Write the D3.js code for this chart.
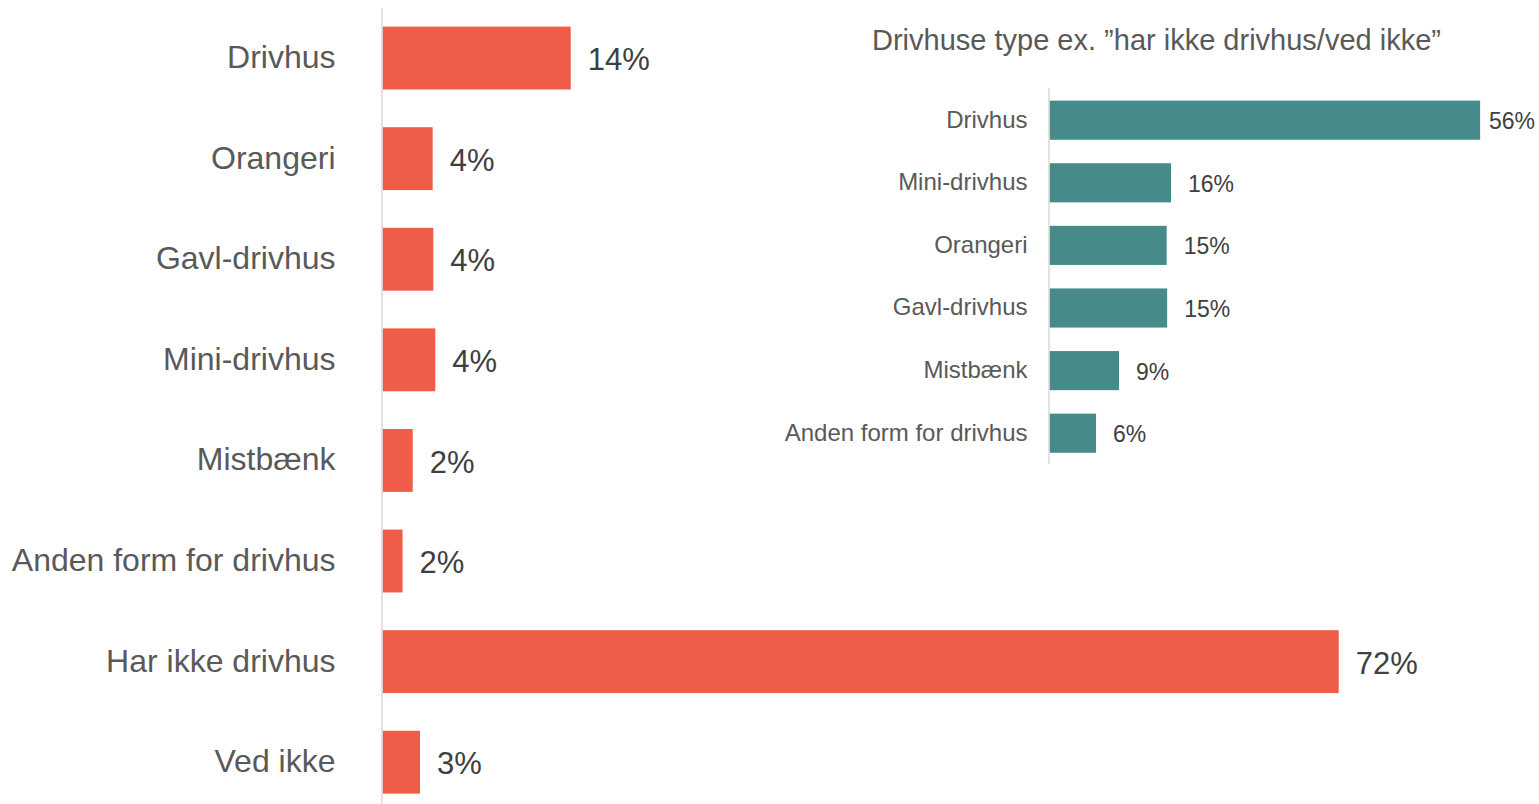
<!DOCTYPE html>
<html>
<head>
<meta charset="utf-8">
<script src="https://cdn.jsdelivr.net/npm/d3@7"></script>
<style>
html, body { margin: 0; padding: 0; background: #fff; }
svg { display: block; font-family: Arial, "Liberation Sans", sans-serif; }
</style>
</head>
<body>
<svg id="chart" width="1539" height="804"></svg>
<script>
// Main chart data
const mainCategories = ["Drivhus", "Orangeri", "Gavl-drivhus", "Mini-drivhus", "Mistbænk", "Anden form for drivhus", "Har ikke drivhus", "Ved ikke"];
const mainValues = [14.26, 3.8, 3.85, 4.0, 2.29, 1.52, 72.44, 2.84];

// Inset chart data
const insetTitle = "Drivhuse type ex. ”har ikke drivhus/ved ikke”";
const insetCategories = ["Drivhus", "Mini-drivhus", "Orangeri", "Gavl-drivhus", "Mistbænk", "Anden form for drivhus"];
const insetValues = [56.0, 15.8, 15.24, 15.3, 9.04, 6.05];

const svg = d3.select("#chart");
const W = 1539;
const fmt = v => Math.round(v) + "%";

function drawBars(cfg) {
  const g = svg.append("g");
  const y = d3.scaleBand().domain(cfg.categories).range(cfg.yRange)
    .paddingInner(0.375).paddingOuter(0.1875);
  const x = d3.scaleLinear().domain([0, 100]).range([cfg.x0, cfg.x0 + cfg.pxPerPct * 100]);
  const data = cfg.categories.map((c, i) => ({ c, v: cfg.values[i] }));

  g.selectAll("rect").data(data).join("rect")
    .attr("x", x(0))
    .attr("y", d => y(d.c))
    .attr("width", d => x(d.v) - x(0))
    .attr("height", y.bandwidth())
    .attr("fill", cfg.color);

  // axis line
  g.append("line")
    .attr("x1", x(0) - 0.5).attr("x2", x(0) - 0.5)
    .attr("y1", cfg.axisY[0]).attr("y2", cfg.axisY[1])
    .attr("stroke", "#D9D9D9").attr("stroke-width", 1.5);

  // category labels
  g.selectAll("text.cat").data(data).join("text")
    .attr("class", "cat")
    .attr("x", x(0) - cfg.labelGap)
    .attr("y", d => y(d.c) + y.bandwidth() / 2)
    .attr("dy", "0.31em")
    .attr("text-anchor", "end")
    .attr("font-size", cfg.catSize)
    .attr("fill", "#595959")
    .text(d => d.c);

  // value labels
  g.selectAll("text.val").data(data).join("text")
    .attr("class", "val")
    .attr("x", d => x(d.v) + 17)
    .attr("y", d => y(d.c) + y.bandwidth() / 2)
    .attr("dy", "0.39em")
    .attr("font-size", cfg.valSize)
    .attr("fill", "#404040")
    .text(d => fmt(d.v))
    .each(function () {
      const bb = this.getBBox();
      if (bb.x + bb.width > W - 4) {
        d3.select(this).attr("x", W - 4 - bb.width);
      }
    });
}

drawBars({
  categories: mainCategories,
  values: mainValues,
  yRange: [7.75, 812.5],
  x0: 382.5,
  pxPerPct: 13.2,
  color: "#EF5C48",
  axisY: [8, 804],
  labelGap: 47,
  catSize: 32,
  valSize: 31
});

drawBars({
  categories: insetCategories,
  values: insetValues,
  yRange: [88.9, 464.5],
  x0: 1049.5,
  pxPerPct: 7.69,
  color: "#468B8A",
  axisY: [88, 464],
  labelGap: 22,
  catSize: 24,
  valSize: 23
});

svg.append("text")
  .attr("x", 1156.5)
  .attr("y", 50)
  .attr("text-anchor", "middle")
  .attr("font-size", 29)
  .attr("fill", "#595959")
  .text(insetTitle);
</script>
</body>
</html>
